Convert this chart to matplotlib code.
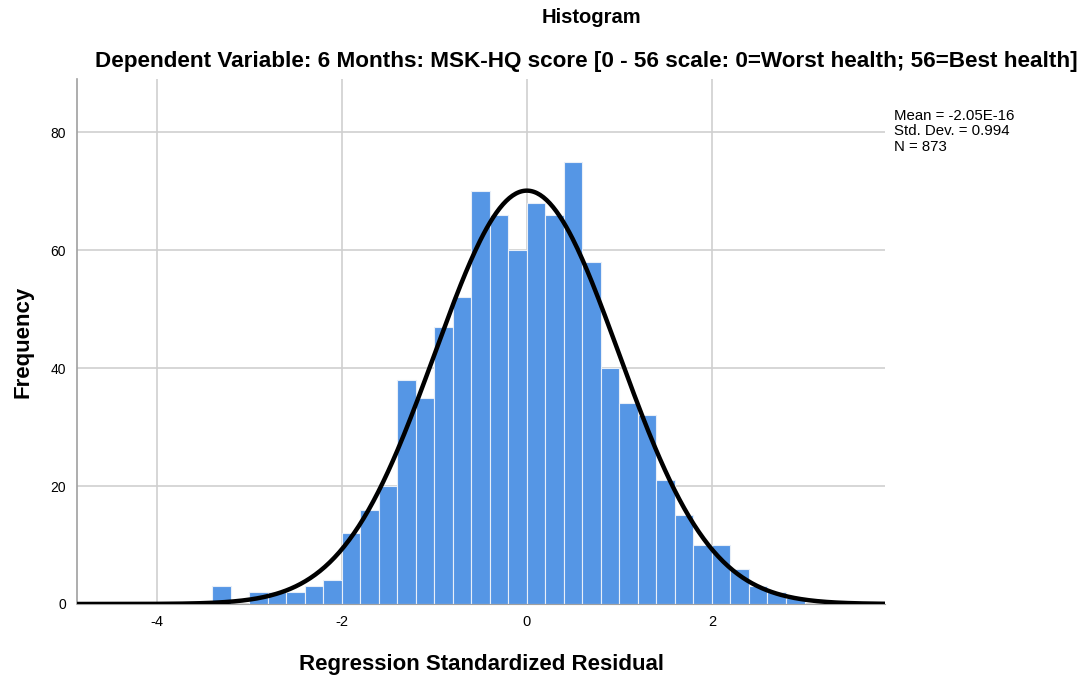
import numpy as np
import matplotlib
matplotlib.use("Agg")
import matplotlib.pyplot as plt

plt.rcParams['font.family'] = ['Liberation Sans', 'DejaVu Sans']

# Histogram bins (left edges) and counts
bin_edges = np.round(np.arange(-3.4, 3.0001, 0.2), 2)
counts = [3, 0, 2, 2, 2, 3, 4, 12, 16, 20, 38, 35, 47, 52, 70, 66, 60, 68, 66, 75,
          58, 40, 34, 32, 21, 15, 10, 10, 6, 3, 2, 1]
mean = -2.05e-16
std = 0.994
n = 873
bin_width = 0.2

x_ticks = [-4, -2, 0, 2]
y_ticks = [0, 20, 40, 60, 80]

fig = plt.figure(figsize=(10.85, 6.8), dpi=100)
ax = fig.add_axes([0.071, 0.1118, 0.7447, 0.772])

lefts = bin_edges[:-1]
ax.bar(lefts, counts, width=bin_width, align='edge', color='#5596E5',
       edgecolor='#E8EFF8', linewidth=0.8, zorder=2)

xs = np.linspace(-4.86, 3.87, 500)
pdf = n * bin_width * np.exp(-0.5 * ((xs - mean) / std) ** 2) / (std * np.sqrt(2 * np.pi))
ax.plot(xs, pdf, color='black', linewidth=3.2, zorder=4, solid_capstyle='butt')

ax.set_xlim(-4.86, 3.87)
ax.set_ylim(0, 89)
ax.set_xticks(x_ticks)
ax.set_yticks(y_ticks)
ax.set_xticklabels([str(t) for t in x_ticks], fontsize=10.5)
ax.set_yticklabels([str(t) for t in y_ticks], fontsize=10)
ax.tick_params(length=0, pad=8)
ax.grid(True, color='#CFCFCF', linewidth=1.2, zorder=0)
ax.set_axisbelow(True)
for s in ['top', 'right']:
    ax.spines[s].set_visible(False)
ax.spines['left'].set_color('#A0A0A0')
ax.spines['left'].set_linewidth(1.2)
ax.spines['bottom'].set_color('#A0A0A0')

ax.set_xlabel('Regression Standardized Residual', fontsize=16, fontweight='bold', labelpad=18)
ax.set_ylabel('Frequency', fontsize=16, fontweight='bold', labelpad=12)

fig.text(0.545, 0.974, 'Histogram', ha='center', va='center', fontsize=14.5, fontweight='bold')
fig.text(0.540, 0.909, 'Dependent Variable: 6 Months: MSK-HQ score [0 - 56 scale: 0=Worst health; 56=Best health]',
         ha='center', va='center', fontsize=16.2, fontweight='bold')

fig.text(0.824, 0.807, f'Mean = -2.05E-16\nStd. Dev. = {std}\nN = {n}',
         ha='left', va='center', fontsize=10.8, linespacing=1.12)

fig.savefig('out.png', dpi=100, facecolor='white')
